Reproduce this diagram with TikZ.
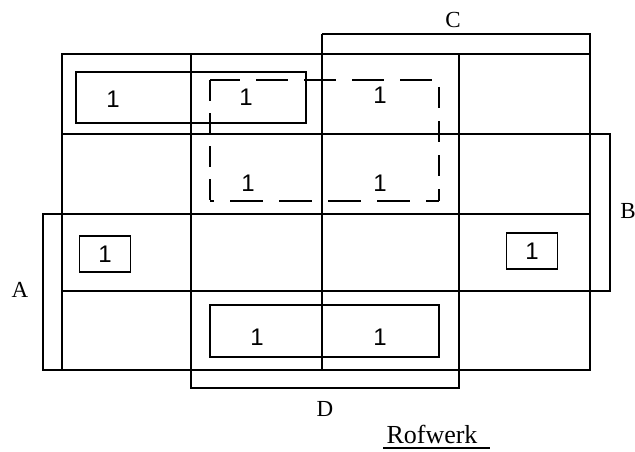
\documentclass[tikz,border=0pt]{standalone}
\usepackage{fontspec}
\setmainfont{Liberation Serif}
\newfontfamily\digitfont{Liberation Sans}
\begin{document}
\begin{tikzpicture}[x=1pt,y=-1pt,
  gridline/.style={line width=1.7pt},
  bracket/.style={line width=1.5pt},
  loopbox/.style={line width=1.7pt},
  dashside/.style={line width=2.5pt},
  one/.style={font=\digitfont\fontsize{24}{24}\selectfont, inner sep=0pt},
  smallloop/.style={one, draw, line width=1.7pt, minimum width=51pt, minimum height=36pt},
  varlabel/.style={font=\fontsize{23}{23}\selectfont, inner sep=0pt}]
\useasboundingbox (0,0) rectangle (635,452);

% Karnaugh map grid (4 x 4 cells)
\draw[gridline] (62,54) rectangle (590,370);
\draw[gridline] (62,134) -- (590,134);
\draw[gridline] (62,214) -- (590,214);
\draw[gridline] (62,291) -- (590,291);
\draw[gridline] (191,54) -- (191,388);
\draw[gridline] (322,34) -- (322,370);
\draw[gridline] (459,54) -- (459,388);

% variable brackets
\draw[bracket] (322,34) -- (590,34) -- (590,54);
\draw[bracket] (191,370) -- (191,388) -- (459,388) -- (459,370);
\draw[bracket] (62,214) -- (43,214) -- (43,370) -- (62,370);
\draw[bracket] (590,134) -- (610,134) -- (610,291) -- (590,291);

\node[varlabel] (lC) at (453,20) {C};
\node[varlabel] (lB) at (628,211) {B};
\node[varlabel] (lA) at (20,290) {A};
\node[varlabel] (lD) at (325,409) {D};

% groupings
\draw[loopbox] (76,72) rectangle (306,123);
\draw[loopbox] (210,305) rectangle (439,357);

% dashed quad grouping, side by side
\draw[dashside, dash pattern=on 32pt off 16pt, dash phase=2pt] (210,80) -- (439,80);
\draw[dashside, dash pattern=on 21pt off 12pt] (210,80) -- (210,201);
\draw[dashside, dash pattern=on 21pt off 13pt, dash phase=27pt] (439,80) -- (439,201);
\draw[dashside, dash pattern=on 33pt off 16pt, dash phase=29pt] (210,201) -- (439,201);

% cell entries
\node[one] (m0) at (113,99) {1};
\node[one] (m1) at (246,97) {1};
\node[one] (m2) at (380,95) {1};
\node[one] (m5) at (248,183) {1};
\node[one] (m6) at (380,183) {1};
\node[smallloop] (m8) at (105,254) {1};
\node[smallloop] (m11) at (532,251) {1};
\node[one] (m13) at (257,337) {1};
\node[one] (m14) at (380,337) {1};

% caption
\node[font=\fontsize{26}{26}\selectfont, inner sep=0pt, anchor=base] (cap) at (432,443) {Rofwerk};
\draw[line width=1.2pt] (383,448) -- (490,448);
\end{tikzpicture}
\end{document}
